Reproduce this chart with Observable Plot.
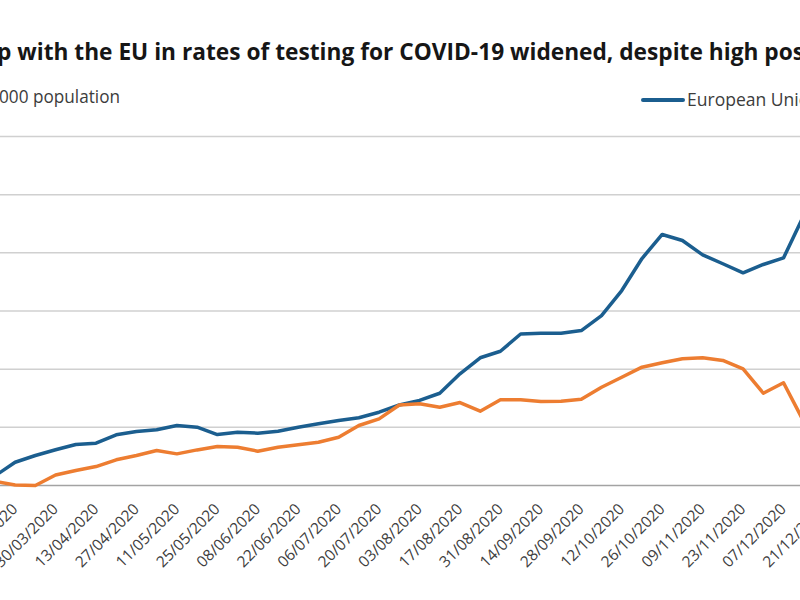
<!DOCTYPE html>
<html><head><meta charset="utf-8">
<script src="https://cdn.jsdelivr.net/npm/d3@7"></script>
<script src="https://cdn.jsdelivr.net/npm/@observablehq/plot@0.6"></script>
<style>
html,body{margin:0;padding:0;background:#fff;}
body{width:800px;height:600px;overflow:hidden;position:relative;font-family:"Open Sans",sans-serif;}
#head{position:absolute;left:0;top:0;}
#chart{position:absolute;left:-100px;top:120px;width:1000px;height:480px;}
#chart svg{max-width:none !important;width:1000px;height:480px;}
</style></head><body>
<svg id="head" width="800" height="120"></svg>
<div id="chart"></div>
<script>
const titleText = "p with the EU in rates of testing for COVID-19 widened, despite high pos";
const subtitleText = "000 population";
const legendLabel = "European Union";
const seriesKeys = ["European Union", "Partner"];
const seriesColors = ["#1b5e8f", "#ed7d31"];

const weeks = ["09/03/2020","16/03/2020","23/03/2020","30/03/2020","06/04/2020","13/04/2020","20/04/2020","27/04/2020",
"04/05/2020","11/05/2020","18/05/2020","25/05/2020","01/06/2020","08/06/2020","15/06/2020","22/06/2020","29/06/2020",
"06/07/2020","13/07/2020","20/07/2020","27/07/2020","03/08/2020","10/08/2020","17/08/2020","24/08/2020","31/08/2020",
"07/09/2020","14/09/2020","21/09/2020","28/09/2020","05/10/2020","12/10/2020","19/10/2020","26/10/2020","02/11/2020",
"09/11/2020","16/11/2020","23/11/2020","30/11/2020","07/12/2020","14/12/2020"];
const euValues = [82,200,258,307,352,364,436,464,479,516,501,438,458,450,467,501,530,559,582,630,692,731,793,960,1098,
1154,1302,1309,1309,1332,1461,1676,1951,2158,2106,1983,1906,1828,1900,1956,2321];
const partnerValues = [36,4,0,90,129,163,221,258,301,272,306,335,329,295,329,350,372,415,516,573,692,702,673,713,639,
737,737,722,725,742,845,931,1017,1055,1089,1098,1075,1003,793,883,550];
const tickLabels = ["16/03/2020","30/03/2020","13/04/2020","27/04/2020","11/05/2020","25/05/2020","08/06/2020","22/06/2020",
"06/07/2020","20/07/2020","03/08/2020","17/08/2020","31/08/2020","14/09/2020","28/09/2020","12/10/2020","26/10/2020",
"09/11/2020","23/11/2020","07/12/2020","21/12/2020","04/01/2021"];
const yTicks = [0,500,1000,1500,2000,2500,3000];

const parse = d3.utcParse("%d/%m/%Y");
const data = weeks.flatMap((w, i) => [
  {date: parse(w), value: euValues[i], series: seriesKeys[0]},
  {date: parse(w), value: partnerValues[i], series: seriesKeys[1]}
]);

const plot = Plot.plot({
  width: 1000, height: 480,
  marginLeft: 60, marginRight: 20, marginTop: 16, marginBottom: 115,
  style: {fontFamily: "'Open Sans', sans-serif", background: "white"},
  x: {type: "utc", domain: [parse("09/03/2020"), parse("04/01/2021")], range: [94.4, 963.9]},
  y: {domain: [0, 3000], axis: null},
  color: {domain: seriesKeys, range: seriesColors},
  marks: [
    Plot.ruleY(yTicks.slice(1), {stroke: "#d0d0d0", strokeWidth: 1.5}),
    Plot.ruleY([0], {stroke: "#a3a3a3", strokeWidth: 1.5}),
    Plot.line(data, {x: "date", y: "value", z: "series", stroke: "series", strokeWidth: 3.5, strokeLinejoin: "round", strokeLinecap: "round"}),
    Plot.axisX(tickLabels.map(parse), {tickFormat: d3.utcFormat("%d/%m/%Y"), tickRotate: -45, tickSize: 0, tickPadding: 21, fontSize: 15.5, fill: "#404040", label: null})
  ]
});
document.getElementById("chart").appendChild(plot);

const head = d3.select("#head");
head.append("text").attr("x", -3).attr("y", 60).attr("font-size", 23.5).attr("font-weight", 700)
  .attr("font-family", "'Open Sans', sans-serif").attr("fill", "#161616")
  .attr("textLength", 807).attr("lengthAdjust", "spacingAndGlyphs").text(titleText);
head.append("text").attr("x", -1).attr("y", 103).attr("font-size", 18)
  .attr("font-family", "'Open Sans', sans-serif").attr("fill", "#3c3c3c")
  .attr("textLength", 121).attr("lengthAdjust", "spacingAndGlyphs").text(subtitleText);
head.append("line").attr("x1", 643).attr("x2", 683).attr("y1", 100).attr("y2", 100)
  .attr("stroke", seriesColors[0]).attr("stroke-width", 4).attr("stroke-linecap", "round");
head.append("text").attr("x", 687).attr("y", 106).attr("font-size", 18)
  .attr("font-family", "'Open Sans', sans-serif").attr("fill", "#3c3c3c")
  .attr("textLength", 133).attr("lengthAdjust", "spacingAndGlyphs").text(legendLabel);
</script>
</body></html>
